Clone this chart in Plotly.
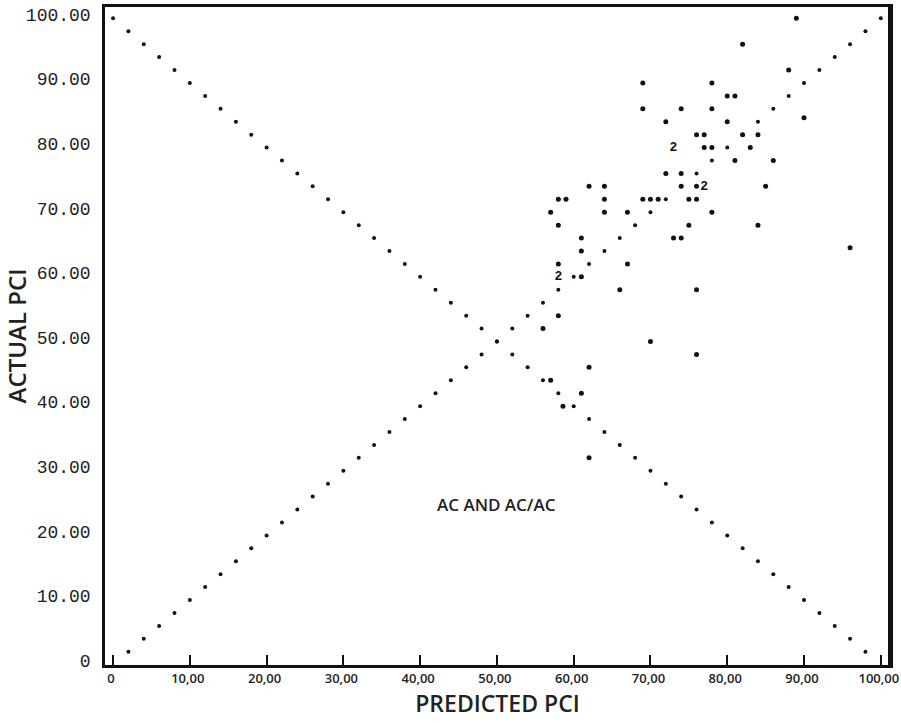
import plotly.graph_objects as go

# Reference diagonal (dotted) lines: points every 2 units
asc_x = [2, 4, 6, 8, 10, 12, 14, 16, 18, 20, 22, 24, 26, 28, 30, 32, 34, 36, 38, 40,
         42, 44, 46, 48, 50, 52, 54, 56, 58, 60, 62, 64, 66, 68, 70, 72, 74, 76, 78, 80,
         82, 84, 86, 88, 90, 92, 94, 96, 98, 100]
asc_y = [2, 4, 6, 8, 10, 12, 14, 16, 18, 20, 22, 24, 26, 28, 30, 32, 34, 36, 38, 40,
         42, 44, 46, 48, 50, 52, 54, 56, 58, 60, 62, 64, 66, 68, 70, 72, 74, 76, 78, 80,
         82, 84, 86, 88, 90, 92, 94, 96, 98, 100]
desc_x = [0, 2, 4, 6, 8, 10, 12, 14, 16, 18, 20, 22, 24, 26, 28, 30, 32, 34, 36, 38,
          40, 42, 44, 46, 48, 50, 52, 54, 56, 58, 60, 62, 64, 66, 68, 70, 72, 74, 76, 78,
          80, 82, 84, 86, 88, 90, 92, 94, 96, 98]
desc_y = [100, 98, 96, 94, 92, 90, 88, 86, 84, 82, 80, 78, 76, 74, 72, 70, 68, 66, 64, 62,
          60, 58, 56, 54, 52, 50, 48, 46, 44, 42, 40, 38, 36, 34, 32, 30, 28, 26, 24, 22,
          20, 18, 16, 14, 12, 10, 8, 6, 4, 2]

# Observed data (predicted, actual)
pred = [89, 82, 88, 69, 78, 80, 81, 69, 74, 78, 72, 80, 90,
        76, 77, 82, 84, 77, 78, 83, 81, 86, 72, 74,
        62, 64, 74, 76, 85, 58, 59, 64, 69, 70, 71, 75, 76,
        57, 64, 67, 78, 58, 75, 84, 61, 73, 74, 61, 96,
        58, 67, 61, 66, 76, 58, 56, 70, 76, 62, 57, 61, 58.6, 62]
actual = [100, 96, 92, 90, 90, 88, 88, 86, 86, 86, 84, 84, 84.6,
          82, 82, 82, 82, 80, 80, 80, 78, 78, 76, 76,
          74, 74, 74, 74, 74, 72, 72, 72, 72, 72, 72, 72, 72,
          70, 70, 70, 70, 68, 68, 68, 66, 66, 66, 64, 64.5,
          62, 62, 60, 58, 58, 54, 52, 50, 48, 46, 44, 42, 40, 32]

# Locations where two observations coincide (plotted as "2")
dup_x = [58, 73, 77]
dup_y = [60, 80, 74]

fig = go.Figure()
fig.add_trace(go.Scatter(x=asc_x, y=asc_y, mode="markers",
                         marker=dict(size=4, color="#111"), hoverinfo="skip"))
fig.add_trace(go.Scatter(x=desc_x, y=desc_y, mode="markers",
                         marker=dict(size=4, color="#111"), hoverinfo="skip"))
fig.add_trace(go.Scatter(x=pred, y=actual, mode="markers",
                         marker=dict(size=5, color="#111")))
fig.add_trace(go.Scatter(x=dup_x, y=dup_y, mode="text", text=["2"] * len(dup_x),
                         textfont=dict(family="Liberation Mono", size=13, color="#111", weight="bold")))

fig.add_annotation(x=50, y=24.8, text="AC AND AC/AC", showarrow=False,
                   font=dict(family="Open Sans", size=17, color="#222", weight=600))

# thicker right border as in the original
fig.add_shape(type="line", xref="x domain", yref="y domain", x0=1, x1=1, y0=0, y1=1,
              line=dict(color="#111", width=4))

x_ticks = [0, 10, 20, 30, 40, 50, 60, 70, 80, 90, 100]
x_labels = ["0", "10,00", "20,00", "30,00", "40,00", "50,00", "60,00", "70,00", "80,00", "90,00", "100,00"]
y_ticks = [0, 10, 20, 30, 40, 50, 60, 70, 80, 90, 100]
y_labels = ["0", "10.00", "20.00", "30.00", "40.00", "50.00", "60.00", "70.00", "80.00", "90.00", "100.00"]

fig.update_layout(
    width=901, height=723,
    margin=dict(l=105, r=11, t=7, b=58, autoexpand=False),
    paper_bgcolor="white", plot_bgcolor="white",
    showlegend=False,
    xaxis=dict(range=[-1.05, 101.2], tickvals=x_ticks, ticktext=x_labels,
               ticks="inside", ticklen=10, tickwidth=2, tickcolor="#111",
               showline=True, linecolor="#111", linewidth=2.5, mirror=True,
               showgrid=False, zeroline=False, ticklabeloverflow="allow", automargin=False,
               ticklabelshift=-2,
               tickfont=dict(family="Open Sans", size=13, color="#222", weight=600),
               title=dict(text="PREDICTED PCI", standoff=8,
                          font=dict(family="Open Sans", size=23, color="#222", weight=600))),
    yaxis=dict(range=[-0.05, 101.75], tickvals=y_ticks, ticktext=y_labels,
               ticks="", showline=True, linecolor="#111", linewidth=2.5, mirror=True,
               showgrid=False, zeroline=False, ticklabelstandoff=8, ticklabelshift=-4,
               automargin=False,
               tickfont=dict(family="Liberation Mono", size=18, color="#222"),
               title=dict(text="ACTUAL PCI", standoff=6,
                          font=dict(family="Open Sans", size=24, color="#222", weight=600))),
)

fig.write_html("out.html")
